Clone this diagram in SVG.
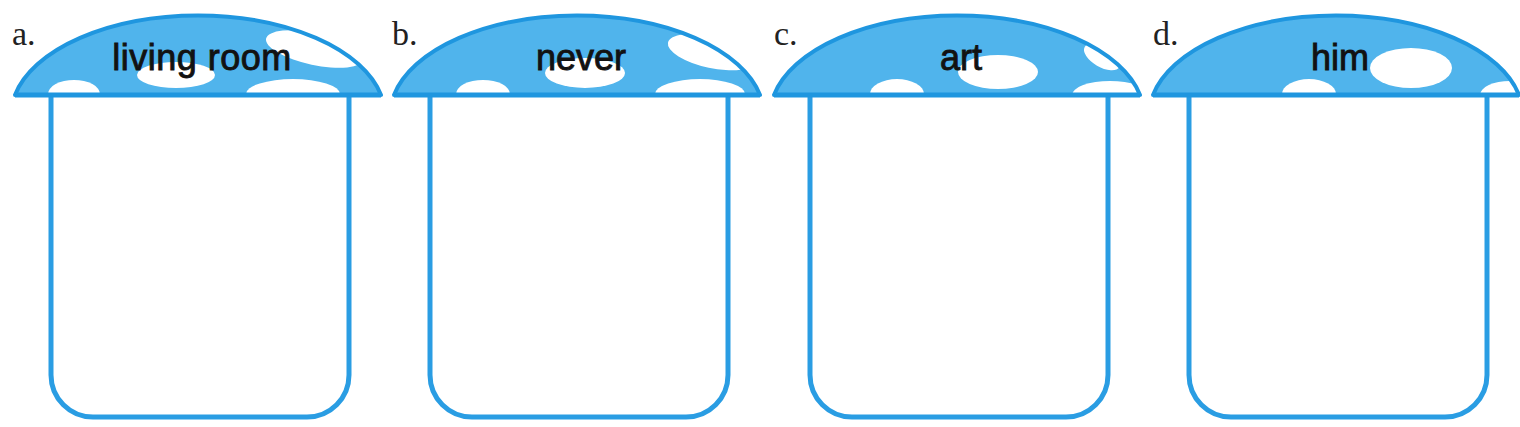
<svg xmlns="http://www.w3.org/2000/svg" xmlns:xlink="http://www.w3.org/1999/xlink" width="1520" height="427" viewBox="0 0 1520 427">
<style>
.capfill{fill:#50b4ec;stroke:none}
.capline{fill:none;stroke:#1f96df;stroke-width:4;stroke-linejoin:round}
.capbase{stroke:#1f96df;stroke-width:5;fill:none}
.spot{fill:#ffffff}
.stem{fill:#ffffff;stroke:#2a9de3;stroke-width:5}
.word{font-family:"Liberation Sans",Arial,sans-serif;font-size:36px;fill:#121212;stroke:#121212;stroke-width:0.9;text-anchor:middle}
.lbl{font-family:"Liberation Serif","Times New Roman",serif;font-size:34px;fill:#222}
</style>
<defs>
<path id="cap" d="M0,95 A187,100 0 0 1 366,95 Z"/>
<clipPath id="capclip" clipPathUnits="userSpaceOnUse"><use xlink:href="#cap" href="#cap"/></clipPath>
</defs>
<rect width="1520" height="427" fill="#ffffff"/>
<g id="connectors"></g>

<g id="node-a" transform="translate(15,0)">
<path class="stem" d="M36,97 V375 A42,42 0 0 0 78,417 H292 A42,42 0 0 0 334,375 V97"/>
<use href="#cap" class="capfill"/>
<g clip-path="url(#capclip)">
<ellipse class="spot" cx="59" cy="94" rx="26" ry="14"/>
<ellipse class="spot" cx="161" cy="75" rx="39" ry="13"/>
<ellipse class="spot" cx="278" cy="94" rx="47" ry="15"/>
<ellipse class="spot" cx="300" cy="49" rx="50" ry="16" transform="rotate(12 300 49)"/>
</g>
<use href="#cap" class="capline"/>
<line class="capbase" x1="0" y1="95" x2="366" y2="95"/>
<text class="word" x="187" y="70" letter-spacing="0.5">living room</text>
<text class="lbl" x="-3" y="45">a.</text>
</g>

<g id="node-b" transform="translate(394,0)">
<path class="stem" d="M36,97 V375 A42,42 0 0 0 78,417 H292 A42,42 0 0 0 334,375 V97"/>
<use href="#cap" class="capfill"/>
<g clip-path="url(#capclip)">
<ellipse class="spot" cx="89" cy="94" rx="27" ry="14"/>
<ellipse class="spot" cx="191" cy="73" rx="40" ry="15"/>
<ellipse class="spot" cx="306" cy="94" rx="45" ry="15"/>
<ellipse class="spot" cx="318" cy="52" rx="45" ry="16" transform="rotate(12 318 52)"/>
</g>
<use href="#cap" class="capline"/>
<line class="capbase" x1="0" y1="95" x2="366" y2="95"/>
<text class="word" x="187" y="70">never</text>
<text class="lbl" x="-2" y="45">b.</text>
</g>

<g id="node-c" transform="translate(774,0)">
<path class="stem" d="M36,97 V375 A42,42 0 0 0 78,417 H292 A42,42 0 0 0 334,375 V97"/>
<use href="#cap" class="capfill"/>
<g clip-path="url(#capclip)">
<ellipse class="spot" cx="123" cy="94" rx="27" ry="15"/>
<ellipse class="spot" cx="224" cy="72" rx="40" ry="17"/>
<ellipse class="spot" cx="336" cy="95" rx="38" ry="14"/>
<ellipse class="spot" cx="328" cy="57" rx="20" ry="10" transform="rotate(30 328 57)"/>
</g>
<use href="#cap" class="capline"/>
<line class="capbase" x1="0" y1="95" x2="366" y2="95"/>
<text class="word" x="187" y="70">art</text>
<text class="lbl" x="0" y="45">c.</text>
</g>

<g id="node-d" transform="translate(1153,0)">
<path class="stem" d="M36,97 V375 A42,42 0 0 0 78,417 H292 A42,42 0 0 0 334,375 V97"/>
<use href="#cap" class="capfill"/>
<g clip-path="url(#capclip)">
<ellipse class="spot" cx="156" cy="94" rx="27" ry="15"/>
<ellipse class="spot" cx="258" cy="68" rx="41" ry="20"/>
<ellipse class="spot" cx="357" cy="95" rx="30" ry="14"/>
</g>
<use href="#cap" class="capline"/>
<line class="capbase" x1="0" y1="95" x2="366" y2="95"/>
<text class="word" x="187" y="70">him</text>
<text class="lbl" x="0" y="45">d.</text>
</g>
</svg>
